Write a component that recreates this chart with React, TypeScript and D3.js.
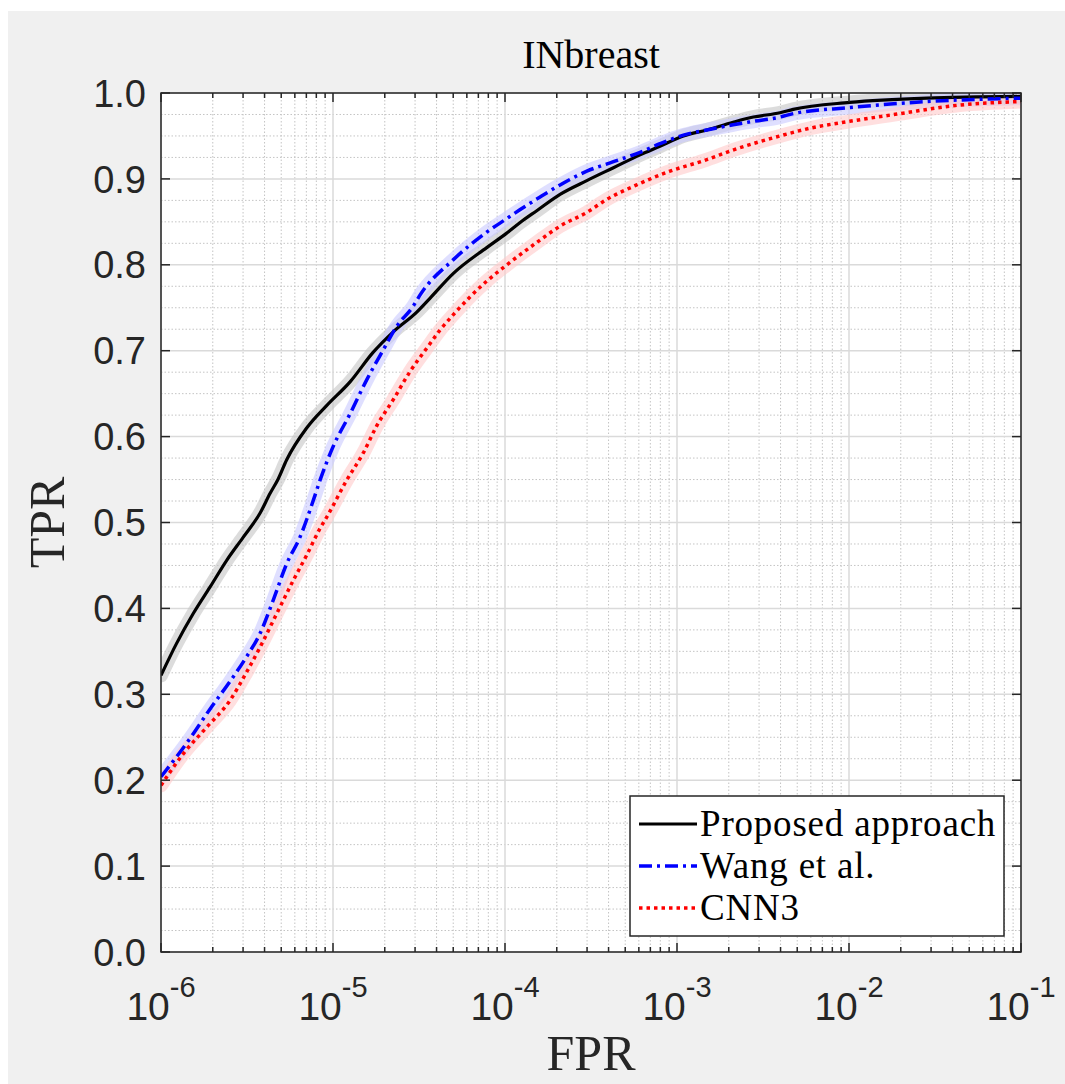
import * as d3 from 'd3';

// ROC curves (FPR on log axis, TPR)
const proposedFpr = [1e-6, 1.23e-6, 1.54e-6, 1.93e-6, 2.41e-6, 3.01e-6, 3.77e-6, 4.31e-6, 4.81e-6, 5.38e-6, 7.03e-6, 9.18e-6,
  1.26e-5, 1.71e-5, 2.24e-5, 3.07e-5, 3.66e-5, 5.01e-5, 7.83e-5, 1.01e-4, 1.22e-4, 1.53e-4, 2.09e-4, 2.99e-4, 4.27e-4,
  6.10e-4, 7.96e-4, 1.09e-3, 1.49e-3, 2.12e-3, 2.78e-3, 3.97e-3, 4.74e-3, 1.01e-2, 2.83e-2, 1e-1];
const proposedTpr = [0.322, 0.359, 0.394, 0.425, 0.456, 0.483, 0.511, 0.534, 0.551, 0.573, 0.610, 0.636,
  0.664, 0.698, 0.722, 0.745, 0.761, 0.790, 0.820, 0.836, 0.849, 0.863, 0.882, 0.898, 0.913,
  0.928, 0.938, 0.950, 0.957, 0.966, 0.972, 0.977, 0.981, 0.989, 0.994, 0.996];

const wangFpr = [1e-6, 1.48e-6, 1.93e-6, 2.52e-6, 3.15e-6, 3.77e-6, 4.50e-6, 5.38e-6, 6.43e-6, 7.69e-6, 8.40e-6, 1.0e-5,
  1.26e-5, 1.57e-5, 1.96e-5, 2.34e-5, 2.93e-5, 3.21e-5, 5.01e-5, 7.83e-5, 1.01e-4, 1.22e-4, 1.60e-4, 2.09e-4, 2.99e-4,
  4.27e-4, 6.10e-4, 7.96e-4, 1.09e-3, 1.49e-3, 2.12e-3, 2.78e-3, 3.97e-3, 4.74e-3, 1.01e-2, 2.83e-2, 1e-1];
const wangTpr = [0.204, 0.249, 0.283, 0.315, 0.344, 0.371, 0.410, 0.452, 0.483, 0.526, 0.549, 0.588,
  0.627, 0.666, 0.701, 0.728, 0.752, 0.765, 0.806, 0.838, 0.853, 0.864, 0.879, 0.893, 0.909,
  0.920, 0.931, 0.941, 0.951, 0.957, 0.963, 0.967, 0.972, 0.976, 0.983, 0.990, 0.994];

const cnnFpr = [1e-6, 1.35e-6, 1.85e-6, 2.52e-6, 3.15e-6, 3.77e-6, 4.71e-6, 5.89e-6, 7.03e-6, 8.40e-6, 9.18e-6, 1.20e-5,
  1.50e-5, 1.79e-5, 2.24e-5, 2.81e-5, 3.51e-5, 4.19e-5, 5.01e-5, 7.83e-5, 1.01e-4, 1.53e-4, 2.09e-4, 2.99e-4, 3.90e-4,
  5.83e-4, 9.10e-4, 1.42e-3, 2.22e-3, 3.97e-3, 5.93e-3, 1.01e-2, 1.98e-2, 4.42e-2, 1e-1];
const cnnTpr = [0.194, 0.231, 0.262, 0.293, 0.326, 0.355, 0.394, 0.433, 0.462, 0.493, 0.506, 0.549,
  0.581, 0.612, 0.643, 0.676, 0.703, 0.724, 0.742, 0.781, 0.799, 0.826, 0.845, 0.861, 0.876,
  0.893, 0.909, 0.921, 0.935, 0.950, 0.959, 0.967, 0.976, 0.986, 0.990];

const seriesNames = ['Proposed approach', 'Wang et al.', 'CNN3'];
const yTickValues = [0, 0.1, 0.2, 0.3, 0.4, 0.5, 0.6, 0.7, 0.8, 0.9, 1.0];
const xDecades = [-6, -5, -4, -3, -2, -1];

const W = 1065;
const H = 1084;
const plot = { left: 161, right: 1021, top: 93, bottom: 952 };
const serif = '"Liberation Serif", "DejaVu Serif", serif';
const sans = '"Liberation Sans", Arial, sans-serif';

export default function App() {
  const x = d3.scaleLog().domain([1e-6, 1e-1]).range([plot.left, plot.right]);
  const y = d3.scaleLinear().domain([0, 1]).range([plot.bottom, plot.top]);
  const line = d3.line<[number, number]>().x(d => x(d[0])).y(d => y(d[1])).curve(d3.curveMonotoneX);

  const series = [
    { name: seriesNames[0], pts: d3.zip(proposedFpr, proposedTpr) as [number, number][], color: '#000000', band: '#c4c4c4', dash: null, width: 3.2 },
    { name: seriesNames[1], pts: d3.zip(wangFpr, wangTpr) as [number, number][], color: '#0000ff', band: '#c9c9ff', dash: '13,5,3,5', width: 3.5 },
    { name: seriesNames[2], pts: d3.zip(cnnFpr, cnnTpr) as [number, number][], color: '#ff0000', band: '#ffc9c9', dash: '3.5,4', width: 3.5 },
  ];

  const allX = x.ticks();
  const minorX = allX.filter(v => Math.abs(Math.log10(v) - Math.round(Math.log10(v))) > 1e-6);
  const majorX = xDecades.map(e => Math.pow(10, e));
  const minorY = d3.range(0, 41).map(i => i * 0.025).filter(v => Math.abs(v * 10 - Math.round(v * 10)) > 1e-6);

  const axisColor = '#262626';
  const legend = { x0: 630, x1: 1004, y0: 796, y1: 936 };
  const rowY = [824, 866, 908];

  return (
    <svg width={W} height={H} style={{ position: 'absolute', left: 0, top: 0 }}>
      <rect x={8} y={11} width={W - 8} height={H - 11} fill="#f0f0f0" />
      <rect x={plot.left} y={plot.top} width={plot.right - plot.left} height={plot.bottom - plot.top} fill="#fff" />
      <defs>
        <clipPath id="plotClip">
          <rect x={plot.left} y={plot.top} width={plot.right - plot.left} height={plot.bottom - plot.top} />
        </clipPath>
      </defs>

      {/* minor grid */}
      <g stroke="#c4c4c4" strokeWidth={1} strokeDasharray="1.5,2">
        {minorX.map((v, i) => (
          <line key={'mx' + i} x1={x(v)} x2={x(v)} y1={plot.top} y2={plot.bottom} />
        ))}
        {minorY.map((v, i) => (
          <line key={'my' + i} x1={plot.left} x2={plot.right} y1={y(v)} y2={y(v)} />
        ))}
      </g>
      {/* major grid */}
      <g stroke="#dadada" strokeWidth={1.5}>
        {majorX.map((v, i) => (
          <line key={'gx' + i} x1={x(v)} x2={x(v)} y1={plot.top} y2={plot.bottom} />
        ))}
        {yTickValues.map((v, i) => (
          <line key={'gy' + i} x1={plot.left} x2={plot.right} y1={y(v)} y2={y(v)} />
        ))}
      </g>

      {/* curves */}
      <g clipPath="url(#plotClip)" fill="none" strokeLinejoin="round">
        {series.map(s => (
          <path key={s.name + 'band'} d={line(s.pts) || ''} stroke={s.band} strokeOpacity={0.6} strokeWidth={14} strokeLinecap="round" />
        ))}
        {series.map(s => (
          <path key={s.name} d={line(s.pts) || ''} stroke={s.color} strokeWidth={s.width} strokeDasharray={s.dash || undefined} />
        ))}
      </g>

      {/* ticks */}
      <g stroke={axisColor} strokeWidth={1.5}>
        {majorX.map((v, i) => (
          <g key={'tx' + i}>
            <line x1={x(v)} x2={x(v)} y1={plot.bottom} y2={plot.bottom - 9} />
            <line x1={x(v)} x2={x(v)} y1={plot.top} y2={plot.top + 9} />
          </g>
        ))}
        {minorX.map((v, i) => (
          <g key={'tmx' + i}>
            <line x1={x(v)} x2={x(v)} y1={plot.bottom} y2={plot.bottom - 5} />
            <line x1={x(v)} x2={x(v)} y1={plot.top} y2={plot.top + 5} />
          </g>
        ))}
        {yTickValues.map((v, i) => (
          <g key={'ty' + i}>
            <line x1={plot.left} x2={plot.left + 9} y1={y(v)} y2={y(v)} />
            <line x1={plot.right} x2={plot.right - 9} y1={y(v)} y2={y(v)} />
          </g>
        ))}
      </g>
      <rect x={plot.left} y={plot.top} width={plot.right - plot.left} height={plot.bottom - plot.top}
        fill="none" stroke={axisColor} strokeWidth={1.5} />

      {/* tick labels */}
      <g fill={axisColor} fontFamily={sans}>
        {yTickValues.map((v, i) => (
          <text key={'ly' + i} x={146} y={y(v)} dy="0.36em" textAnchor="end" fontSize={38}>{v.toFixed(1)}</text>
        ))}
        {xDecades.map((e, i) => (
          <text key={'lx' + i} x={x(Math.pow(10, e))} y={1020} textAnchor="middle" fontSize={39}>
            10<tspan fontSize={29} dy={-23}>{e}</tspan>
          </text>
        ))}
      </g>

      {/* titles */}
      <text x={(plot.left + plot.right) / 2} y={68} textAnchor="middle" fontFamily={serif} fontSize={40} fill="#000">INbreast</text>
      <text x={(plot.left + plot.right) / 2} y={1070} textAnchor="middle" fontFamily={serif} fontSize={50} fill="#262626">FPR</text>
      <text transform={`translate(64, ${(plot.top + plot.bottom) / 2}) rotate(-90)`} textAnchor="middle"
        fontFamily={serif} fontSize={50} fill="#262626">TPR</text>

      {/* legend */}
      <rect x={legend.x0} y={legend.y0} width={legend.x1 - legend.x0} height={legend.y1 - legend.y0}
        fill="#fff" stroke={axisColor} strokeWidth={1.5} />
      {series.map((s, i) => (
        <g key={'lg' + i}>
          <line x1={639} x2={697} y1={rowY[i]} y2={rowY[i]} stroke={s.color} strokeWidth={s.width}
            strokeDasharray={s.dash || undefined} />
          <text x={700} y={rowY[i]} dy="0.33em" fontFamily={serif} fontSize={37} letterSpacing={0.8} fill="#000">{s.name}</text>
        </g>
      ))}
    </svg>
  );
}
